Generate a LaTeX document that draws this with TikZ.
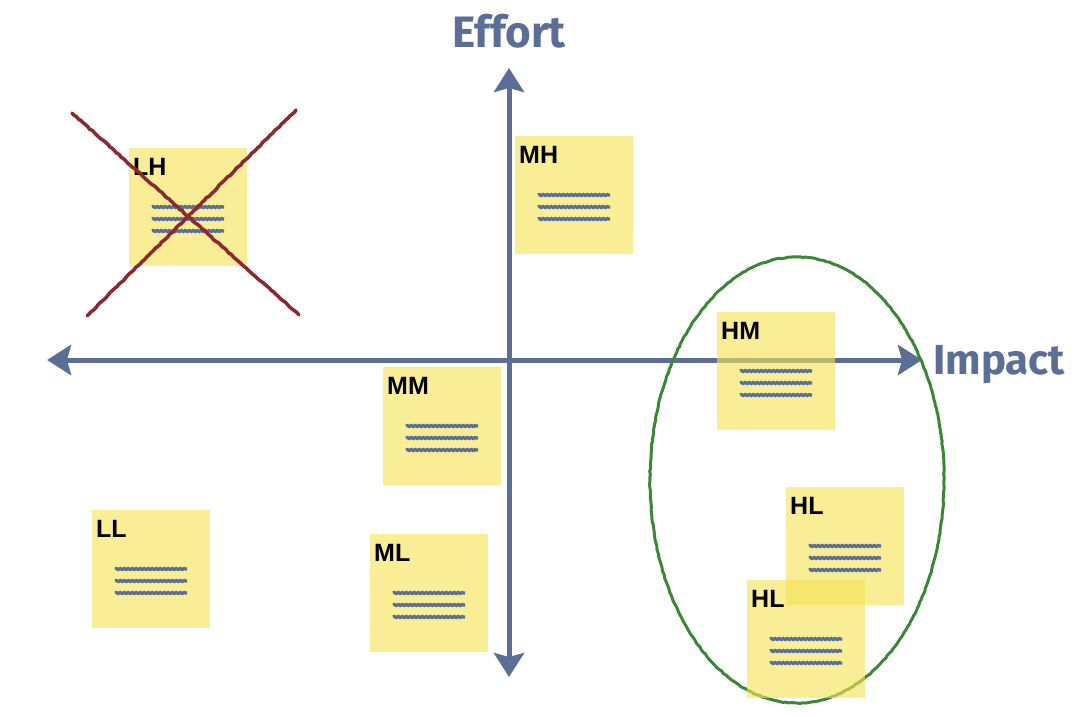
\documentclass[tikz,border=0pt]{standalone}
\usepackage{fontspec}
\setmainfont{Liberation Sans}
\newfontfamily\handfont{Fira Sans}
\usetikzlibrary{arrows.meta,positioning,decorations.pathmorphing}

\definecolor{axisblue}{RGB}{90,110,150}
\definecolor{noteyellow}{RGB}{245,226,85}
\definecolor{crossred}{RGB}{140,40,50}
\definecolor{ringgreen}{RGB}{60,135,55}

\tikzset{
        sticky/.style={rectangle, fill=noteyellow, fill opacity=0.62, minimum width=118pt, minimum height=118pt, inner sep=0pt, anchor=north west},
        tag/.style={font=\bfseries\fontsize{25}{25}\selectfont, inner sep=0pt},
        scribble/.style={axisblue, line width=3.2pt, decorate, decoration={snake, amplitude=0.5pt, segment length=4pt}},
        axisline/.style={axisblue, line width=5pt, {Stealth[length=24pt, width=30pt, inset=4pt]}-{Stealth[length=24pt, width=30pt, inset=4pt]}},
        axistitle/.style={axisblue, font=\handfont\bfseries\fontsize{44}{44}\selectfont, inner sep=0pt}
}

\begin{document}
\begin{tikzpicture}[x=1pt, y=-1pt]
        \useasboundingbox (0,0) rectangle (1088,716);

        \coordinate (xleft) at (47,360);
        \coordinate (xright) at (922,360);
        \coordinate (ytop) at (509,68);
        \coordinate (ybottom) at (509,677);

        \draw[axisline] (xleft) -- (xright);
        \draw[axisline] (ybottom) -- (ytop);

        \node (effort) [axistitle, above=20pt of ytop] {Effort};
        \node (impact) [axistitle, font=\handfont\bfseries\fontsize{42}{42}\selectfont, right=11pt of xright, yshift=-5pt] {Impact};

        \draw[ringgreen, line width=3pt, decorate, decoration={random steps, segment length=3pt, amplitude=0.4pt}] (797,480) ellipse [x radius=147pt, y radius=223pt];

        \foreach \name/\x/\y/\txt in {lh/129/148/LH, mh/515/136/MH, hm/717/312/HM, mm/383/367/MM, ll/92/510/LL, ml/370/534/ML, hla/786/487/HL, hlb/747/580/HL} {
                \node (\name) [sticky] at (\x,\y) {};
                \node (\name tag) [tag, below right=10pt and 4pt of \name.north west] {\txt};
                \foreach \dy in {59,71,83}
                        \draw[scribble] ([shift={(23,\dy)}]\name.north west) -- ++(72,0);
        }

        \coordinate (crossa) at (72,113);
        \coordinate (crossb) at (299,315);
        \coordinate (crossc) at (87,316);
        \coordinate (crossd) at (296,110);
        \draw[crossred, line width=3.5pt, line cap=round, decorate, decoration={random steps, segment length=3pt, amplitude=0.5pt}] (crossa) -- (crossb);
        \draw[crossred, line width=3.5pt, line cap=round, decorate, decoration={random steps, segment length=3pt, amplitude=0.5pt}] (crossc) -- (crossd);
\end{tikzpicture}
\end{document}
